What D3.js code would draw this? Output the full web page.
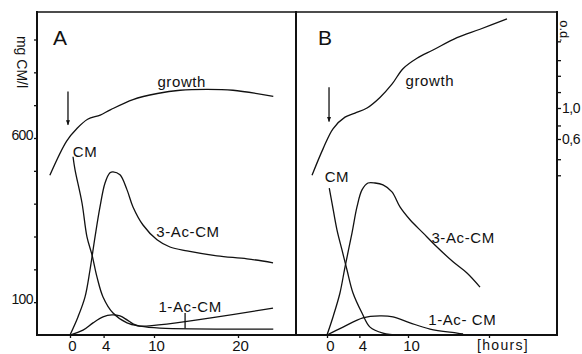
<!DOCTYPE html>
<html>
<head>
<meta charset="utf-8">
<script src="https://cdn.jsdelivr.net/npm/d3@7"></script>
<style>
  body { margin: 0; background: #fff; }
  svg { display: block; font-family: "Liberation Sans", Arial, sans-serif; }
</style>
</head>
<body>
<div id="chart"></div>
<script>
// --- données (heures / mg CM par litre / densité optique) ---
const growthA_h  = [-2.4, -0.4, 0.8, 2.1, 3.6, 4.8, 7.5, 10.4, 13.1, 16.3, 19.4, 24.2];
const growthA_od = [0.33, 0.58, 0.71, 0.83, 0.89, 0.97, 1.15, 1.27, 1.34, 1.36, 1.34, 1.21];
const cmA_h  = [0.36, 0.6, 1.43, 2.02, 2.62, 3.21, 3.93, 5.12, 6.79, 8.33, 10.7, 24.2];
const cmA_v  = [543, 503, 402, 299, 244, 177, 116, 67, 37, 27, 21, 18];
const ac3A_h = [0, 0.95, 1.79, 2.38, 2.98, 3.57, 4.17, 4.76, 5.12, 5.95, 6.79, 7.5, 8.69, 10.36, 11.9, 13.93, 17.5, 21.07, 24.17];
const ac3A_v = [0, 55, 116, 198, 299, 390, 463, 494, 497, 488, 442, 390, 335, 290, 268, 256, 241, 232, 220];
const ac1A_h = [0, 1.55, 2.74, 3.93, 5.0, 5.95, 6.79, 7.5, 8.33, 24.17];
const ac1A_v = [0, 15, 37, 55, 61, 58, 46, 34, 27, 82];

const growthB_h  = [-1.85, -0.49, 0.74, 2.22, 3.46, 4.94, 6.54, 8.02, 9.38, 11.11, 13.09, 16.05, 18.89, 22.22];
const growthB_od = [0.33, 0.51, 0.71, 0.86, 0.92, 1.0, 1.19, 1.48, 1.91, 2.27, 2.6, 3.19, 3.66, 4.34];
const cmB_h  = [0.28, 0.62, 1.23, 1.85, 2.47, 3.21, 4.32, 5.31, 6.91, 9.0];
const cmB_v  = [447, 402, 320, 259, 198, 128, 67, 24, 6, 0];
const ac3B_h = [0, 0.74, 1.6, 2.22, 3.09, 3.7, 4.32, 5.06, 5.93, 6.91, 8.02, 9.01, 10.25, 11.85, 13.58, 15.56, 17.28, 18.89];
const ac3B_v = [0, 55, 128, 207, 311, 390, 442, 463, 463, 457, 436, 390, 351, 311, 268, 223, 189, 146];
const ac1B_h = [0, 1.98, 4.44, 6.54, 8.15, 10.25, 12.72, 16.05, 16.8];
const ac1B_v = [0, 24, 52, 58, 55, 37, 18, 6, 3];

const mgTicks = [100, 200, 300, 400, 500, 600, 700, 800, 900];
const mgLabels = [100, 600];
const odTicks = [3.0, 2.2, 1.7, 1.3, 1.0, 0.75, 0.6, 0.43, 0.33];
const odLabels = { 1.0: "1,0", 0.6: "0,6" };
const hourTicksA = [0, 4, 10, 20];
const hourTicksB = [0, 4, 10, 20];

// --- mise en page ---
const W = 582, H = 354;
const frame = { left: 37, mid: 296, right: 557, top: 12, bottom: 335 };

const svg = d3.select("#chart").append("svg").attr("width", W).attr("height", H);
svg.append("rect").attr("width", W).attr("height", H).attr("fill", "#fff");

const xA = d3.scaleLinear().domain([0, 20]).range([70, 238]);
const xB = d3.scaleLinear().domain([0, 20]).range([327, 489]);
const yMg = d3.scaleLinear().domain([0, 600]).range([frame.bottom, 138]);
const yOd = d3.scaleLog().domain([0.6, 1.0]).range([139, 108]);

const ink = "#111";

// cadre
svg.append("line").attr("x1", frame.left).attr("x2", frame.right).attr("y1", frame.top).attr("y2", frame.top)
  .attr("stroke", ink).attr("stroke-width", 1.4);
[frame.left, frame.mid, frame.right].forEach(x => {
  svg.append("line").attr("x1", x).attr("x2", x).attr("y1", frame.top - 1).attr("y2", frame.bottom + 1)
    .attr("stroke", ink).attr("stroke-width", 2);
});
svg.append("line").attr("x1", frame.left - 1).attr("x2", frame.right + 1).attr("y1", frame.bottom).attr("y2", frame.bottom)
  .attr("stroke", ink).attr("stroke-width", 2);

// axes
function styleAxis(g) {
  g.select(".domain").remove();
  g.selectAll("line").attr("stroke", ink).attr("stroke-width", 1.3);
  g.selectAll("text").attr("fill", ink).style("font-family", '"Liberation Sans", Arial, sans-serif');
}

svg.append("g").attr("transform", `translate(${frame.left},0)`)
  .call(d3.axisLeft(yMg).tickValues(mgTicks).tickSize(3).tickPadding(1)
    .tickFormat(d => mgLabels.includes(d) ? d : ""))
  .call(styleAxis)
  .call(g => g.selectAll("text").style("font-size", "14px").attr("letter-spacing", "-0.6").attr("dy", "0.1em"));

svg.append("g").attr("transform", `translate(${frame.right},0)`)
  .call(d3.axisRight(yOd).tickValues(odTicks).tickSize(4).tickPadding(1)
    .tickFormat(d => odLabels[d] || ""))
  .call(styleAxis)
  .call(g => g.selectAll("text").style("font-size", "14px").attr("letter-spacing", "-0.5"));

svg.append("g").attr("transform", `translate(0,${frame.bottom})`)
  .call(d3.axisBottom(xA).tickValues(hourTicksA).tickSize(3).tickPadding(2))
  .call(styleAxis)
  .call(g => g.selectAll("text").style("font-size", "15px").attr("dx", "2"));

svg.append("g").attr("transform", `translate(0,${frame.bottom})`)
  .call(d3.axisBottom(xB).tickValues(hourTicksB).tickSize(3).tickPadding(2)
    .tickFormat(d => d === 20 ? "" : d))
  .call(styleAxis)
  .call(g => g.selectAll("text").style("font-size", "15px").attr("dx", "3"));

svg.append("text").attr("x", xB(20) + 14).attr("y", frame.bottom + 15)
  .attr("text-anchor", "middle").attr("letter-spacing", "1.3").style("font-size", "14px")
  .attr("fill", ink).text("[hours]");

// titres d'axes
svg.append("text").attr("transform", "translate(17,62) rotate(90)")
  .attr("text-anchor", "middle").style("font-size", "14px").attr("fill", ink).text("mg CM/l");
svg.append("text").attr("transform", "translate(560,31) rotate(90)")
  .attr("text-anchor", "middle").style("font-size", "13px").attr("fill", ink).text("o.d.");

// courbes
const curve = d3.line().curve(d3.curveCatmullRom.alpha(0.5));
function drawCurve(xs, ys, hrs, vals) {
  const pts = d3.zip(hrs, vals).map(([h, v]) => [xs(h), ys(v)]);
  svg.append("path").attr("d", curve(pts))
    .attr("fill", "none").attr("stroke", ink).attr("stroke-width", 1.3);
}

drawCurve(xA, yOd, growthA_h, growthA_od);
drawCurve(xA, yMg, cmA_h, cmA_v);
drawCurve(xA, yMg, ac3A_h, ac3A_v);
drawCurve(xA, yMg, ac1A_h, ac1A_v);

drawCurve(xB, yOd, growthB_h, growthB_od);
drawCurve(xB, yMg, cmB_h, cmB_v);
drawCurve(xB, yMg, ac3B_h, ac3B_v);
drawCurve(xB, yMg, ac1B_h, ac1B_v);

// petit repère vertical sous "1-Ac-CM" (A)
svg.append("line").attr("x1", xA(13.7)).attr("x2", xA(13.7))
  .attr("y1", yMg(67)).attr("y2", yMg(20)).attr("stroke", ink).attr("stroke-width", 1.3);

// flèches d'ajout
const defs = svg.append("defs");
defs.append("marker").attr("id", "head").attr("viewBox", "0 0 10 10")
  .attr("refX", 9).attr("refY", 5).attr("markerWidth", 9).attr("markerHeight", 5)
  .attr("orient", "auto").attr("markerUnits", "userSpaceOnUse")
  .append("path").attr("d", "M0,1 L10,5 L0,9 Z").attr("fill", ink);

function arrow(xs, h, od0, od1) {
  svg.append("line").attr("x1", xs(h)).attr("x2", xs(h))
    .attr("y1", yOd(od0)).attr("y2", yOd(od1))
    .attr("stroke", ink).attr("stroke-width", 1.3).attr("marker-end", "url(#head)");
}
arrow(xA, -0.24, 1.31, 0.76);
arrow(xB, 0.25, 1.41, 0.80);

// étiquettes
function label(xs, ys, h, v, txt, size) {
  svg.append("text").attr("x", xs(h)).attr("y", ys(v)).attr("dy", "0.35em")
    .attr("text-anchor", "middle").style("font-size", size + "px")
    .attr("letter-spacing", size > 16 ? 0 : 0.6).attr("fill", ink).text(txt);
}
label(xA, yMg, -1.19, 905, "A", 21);
label(xB, yMg, -0.25, 905, "B", 21);
label(xA, yOd, 13.3, 1.53, "growth", 15);
label(xB, yOd, 12.7, 1.56, "growth", 15);
label(xA, yMg, 1.79, 558, "CM", 15);
label(xB, yMg, 1.23, 482, "CM", 15);
label(xA, yMg, 14.05, 314, "3-Ac-CM", 15);
label(xB, yMg, 16.8, 296, "3-Ac-CM", 15);
label(xA, yMg, 14.3, 85, "1-Ac-CM", 15);
label(xB, yMg, 16.7, 46, "1-Ac- CM", 15);
</script>
</body>
</html>
